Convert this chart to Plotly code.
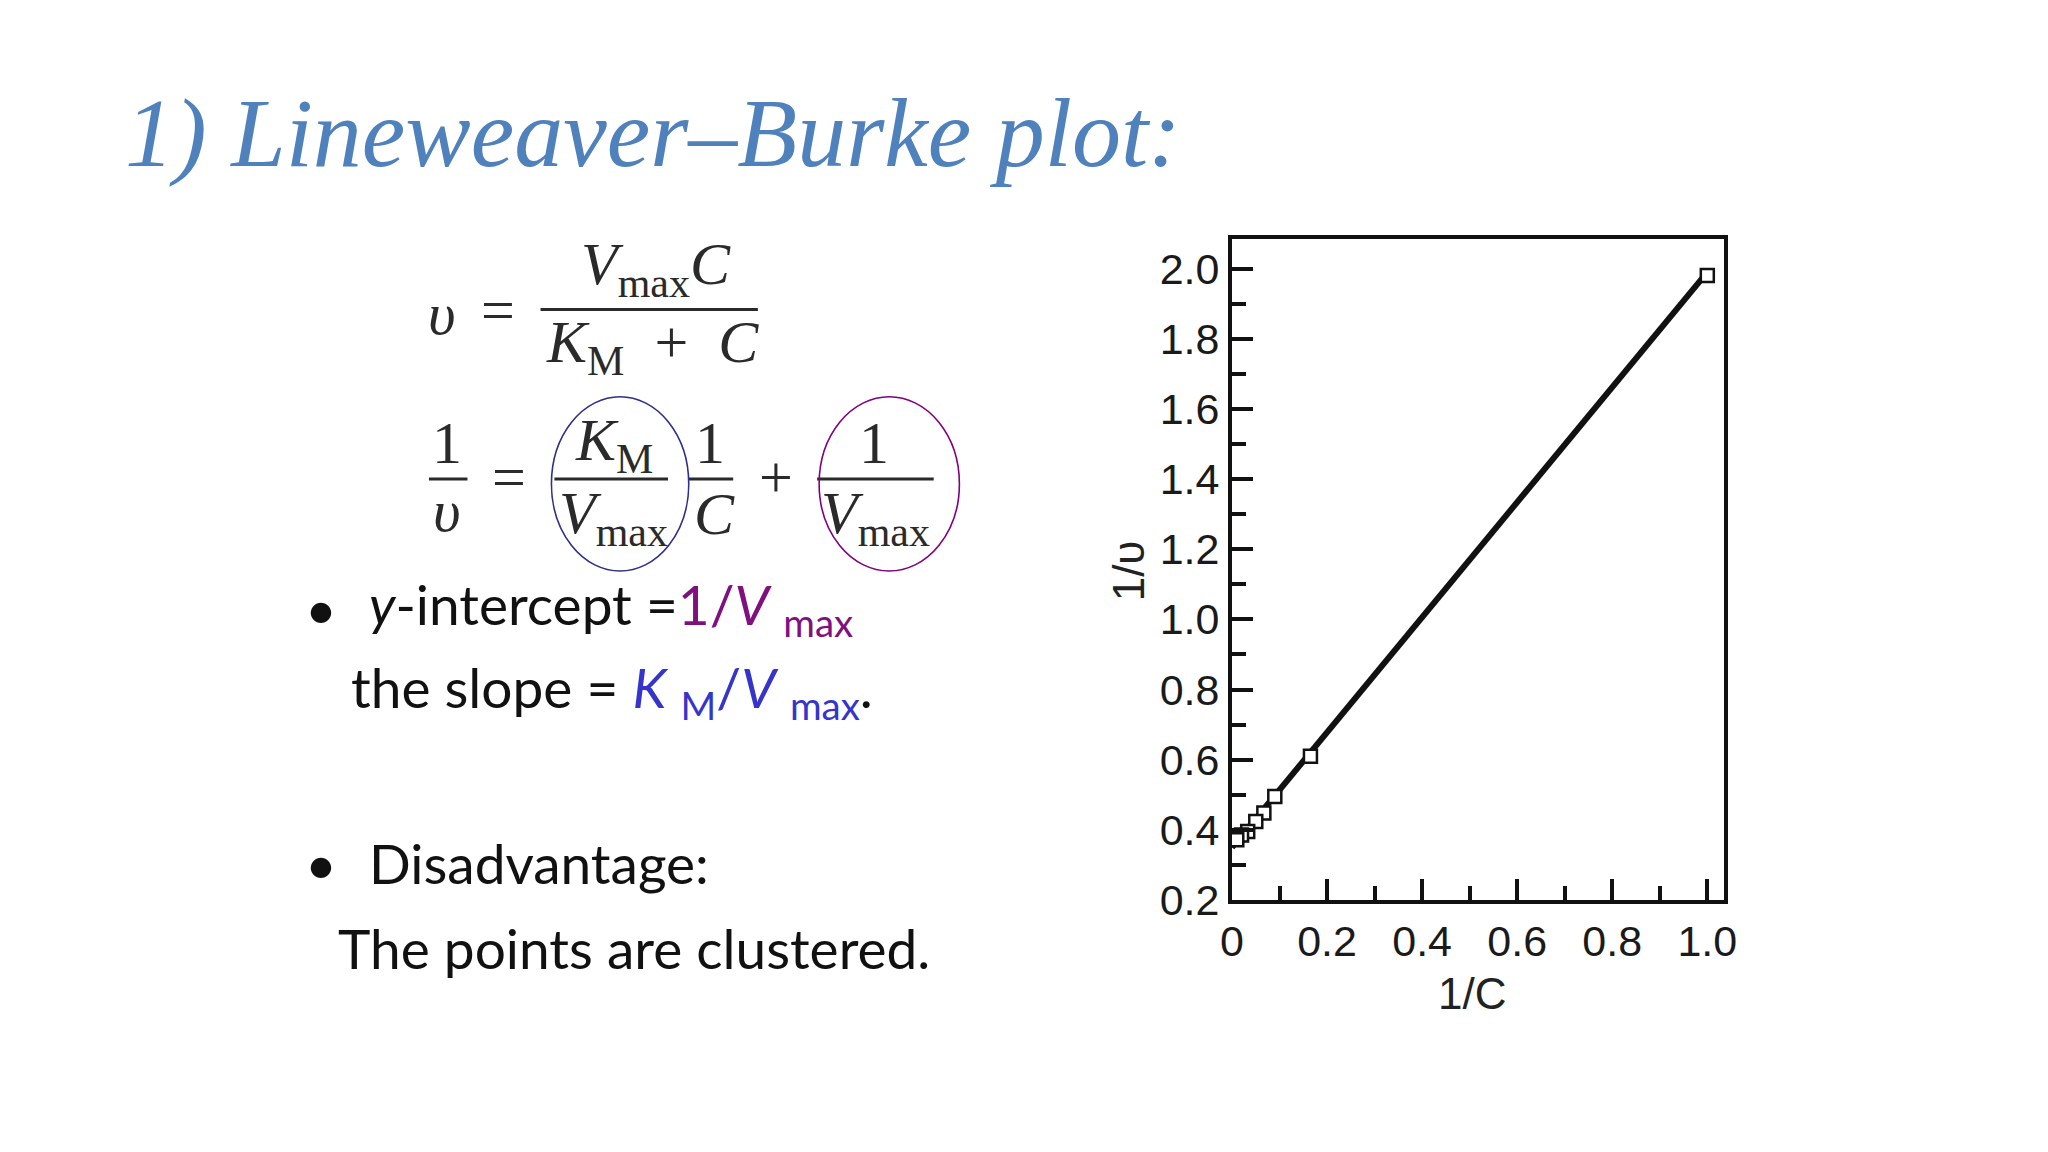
import plotly.graph_objects as go

# ---- data ----
inv_c = [1.0, 0.165, 0.09, 0.067, 0.05, 0.033, 0.02, 0.01]
inv_v = [1.98, 0.61, 0.495, 0.448, 0.424, 0.395, 0.385, 0.372]
fit_x = [0.0, 1.0]
fit_y = [0.35, 1.99]
x_ticks = [0, 0.2, 0.4, 0.6, 0.8, 1.0]
x_ticktext = ["0", "0.2", "0.4", "0.6", "0.8", "1.0"]
y_ticks = [0.2, 0.4, 0.6, 0.8, 1.0, 1.2, 1.4, 1.6, 1.8, 2.0]
y_ticktext = ["0.2", "0.4", "0.6", "0.8", "1.0", "1.2", "1.4", "1.6", "1.8", "2.0"]

W, H = 2048, 1152


def X(px):
    return px / W


def Y(py):
    return 1 - py / H


fig = go.Figure()
fig.add_trace(go.Scatter(x=fit_x, y=fit_y, mode="lines",
                         line=dict(color="#111111", width=6), showlegend=False))
fig.add_trace(go.Scatter(x=inv_c, y=inv_v, mode="markers",
                         marker=dict(symbol="square", size=13, color="white",
                                     line=dict(color="#111111", width=2.5)),
                         showlegend=False))

axis_common = dict(showline=True, linewidth=4, linecolor="#111111", mirror=True,
                   ticks="inside", ticklen=21, tickwidth=4, tickcolor="#111111",
                   showgrid=False, zeroline=False,
                   tickfont=dict(family="Liberation Sans", size=43, color="#1a1a1a"))

fig.update_layout(
    width=W, height=H, autosize=False,
    margin=dict(l=0, r=0, t=0, b=0),
    paper_bgcolor="white", plot_bgcolor="white",
    xaxis=dict(domain=[X(1227), X(1725)], range=[0, 1.035],
               tickmode="array", tickvals=x_ticks, ticktext=x_ticktext,
               minor=dict(ticks="inside", ticklen=14, tickwidth=4, tickcolor="#111111",
                          tick0=0, dtick=0.1),
               **axis_common),
    yaxis=dict(domain=[Y(911), Y(236)], range=[0.2, 2.084],
               tickmode="array", tickvals=y_ticks, ticktext=y_ticktext,
               minor=dict(ticks="inside", ticklen=14, tickwidth=4, tickcolor="#111111",
                          tick0=0, dtick=0.1),
               **axis_common),
)

anns = []


def ann(text, px, py, size, color="#222222", family="Liberation Serif",
        xanchor="center", yanchor="middle", angle=0):
    anns.append(dict(text=text, x=X(px), y=Y(py), xref="paper", yref="paper",
                     xanchor=xanchor, yanchor=yanchor, showarrow=False,
                     textangle=angle,
                     font=dict(family=family, size=size, color=color)))


# title
ann("<i>1) Lineweaver–Burke plot:</i>", 104, 128, 98, color="#4f81bd",
    xanchor="left")

# axis titles
ann("1/υ", 1122, 575, 44, family="Liberation Sans", angle=-90)
ann("1/C", 1470, 1006, 44, family="Liberation Sans")

eq = "#2a2a2a"
dx = -13
# equation 1
ann("<i>υ</i>", 440 + dx, 313, 60, eq)
ann("=", 497 + dx, 308, 60, eq)
ann("<i>V</i><sub>max</sub><i>C</i>", 657 + dx, 266, 60, eq)
ann("<i>K</i><sub>M</sub>\u00a0 + \u00a0<i>C</i>", 653 + dx, 346, 60, eq)

# equation 2
ann("1", 445 + dx, 444, 60, eq)
ann("<i>υ</i>", 445 + dx, 514, 60, eq)
ann("=", 508 + dx, 479, 60, eq)
ann("<i>K</i><sub>M</sub>", 614 + dx, 446, 60, eq)
ann("<i>V</i><sub>max</sub>", 614 + dx, 520, 60, eq)
ann("1", 712 + dx, 444, 60, eq)
ann("<i>C</i>", 716 + dx, 517, 60, eq)
ann("+", 778 + dx, 479, 60, eq)
ann("1", 878 + dx, 444, 60, eq)
ann("<i>V</i><sub>max</sub>", 879 + dx, 520, 60, eq)

# bullets
txt = "#111111"
purple = "#80107f"
blue = "#3535cc"
bx = -17
ann("•", 322 + bx, 613, 55, txt, family="Lato")
ann("<i>y</i>-intercept =<span style='color:%s'>1/<i>V</i> <sub>max</sub></span>" % purple,
    368 + bx, 613, 55, txt, family="Lato", xanchor="left")
ann("the slope = <span style='color:%s'><i>K</i> <sub>M</sub>/<i>V</i> <sub>max</sub></span>." % blue,
    350 + bx, 698, 55, txt, family="Lato", xanchor="left")
ann("•", 322 + bx, 873, 55, txt, family="Lato")
ann("Disadvantage:", 368 + bx, 873, 55, txt, family="Lato", xanchor="left")
ann("The points are clustered.", 337 + bx, 960, 55, txt, family="Lato", xanchor="left")

shapes = []


def hline(x0, x1, py, color=eq, width=3):
    shapes.append(dict(type="line", xref="paper", yref="paper",
                       x0=X(x0 + dx), x1=X(x1 + dx), y0=Y(py), y1=Y(py),
                       line=dict(color=color, width=width)))


hline(540, 760, 308)
hline(427, 466, 481)
hline(554, 669, 481)
hline(690, 735, 481)
hline(820, 938, 481)

shapes.append(dict(type="circle", xref="paper", yref="paper",
                   x0=X(551 + dx), x1=X(690 + dx), y0=Y(575), y1=Y(397),
                   line=dict(color="#2e2e8c", width=1.6)))
shapes.append(dict(type="circle", xref="paper", yref="paper",
                   x0=X(822 + dx), x1=X(964 + dx), y0=Y(575), y1=Y(397),
                   line=dict(color="#800080", width=1.6)))

fig.update_layout(annotations=anns, shapes=shapes)
fig.write_html("out.html")
